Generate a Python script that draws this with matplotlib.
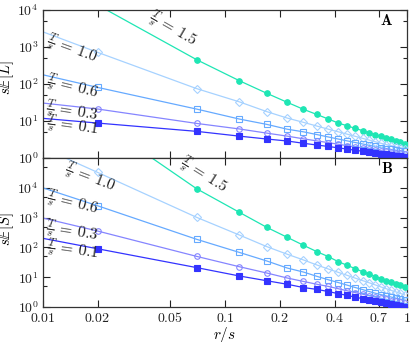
import numpy as np
import matplotlib
matplotlib.use("Agg")
import matplotlib.pyplot as plt
from matplotlib.ticker import FixedLocator, NullLocator

plt.rcParams['mathtext.fontset'] = 'cm'
plt.rcParams['font.family'] = ['DejaVu Serif']

# ---------------- data ----------------
x_marks = [0.02, 0.07, 0.12, 0.17, 0.22, 0.27, 0.32, 0.37, 0.42, 0.47,
           0.52, 0.57, 0.62, 0.67, 0.72, 0.77, 0.82, 0.87, 0.92, 0.97]
x_left = 0.01
T_levels = ["1.5", "1.0", "0.6", "0.3", "0.1"]

# panel A: s E[L]  (value at x=0.01 first, then markers)
L_15 = [1.1e5, 13700, 454, 123, 56, 32, 20.7, 15.0, 11.3, 8.8, 7.4, 6.3, 5.5, 4.8, 4.27, 3.85, 3.5, 3.2, 2.95, 2.7, 2.45]
L_10 = [2580, 719, 75, 33, 17.9, 12.0, 9.2, 7.3, 6.0, 5.1, 4.4, 3.85, 3.4, 3.05, 2.75, 2.5, 2.3, 2.15, 2.0, 1.9, 1.8]
L_06 = [178, 81, 21, 11.3, 8.1, 6.0, 5.1, 4.3, 3.7, 3.25, 2.9, 2.62, 2.4, 2.2, 2.05, 1.92, 1.8, 1.7, 1.62, 1.55, 1.5]
L_03 = [30.6, 21.1, 8.6, 6.1, 4.7, 3.9, 3.3, 2.9, 2.6, 2.35, 2.15, 2.0, 1.87, 1.76, 1.66, 1.58, 1.51, 1.45, 1.4, 1.35, 1.31]
L_01 = [11.8, 8.8, 5.25, 3.9, 3.26, 2.88, 2.5, 2.24, 2.05, 1.88, 1.74, 1.62, 1.52, 1.44, 1.37, 1.3, 1.25, 1.2, 1.16, 1.12, 1.09]

# panel B: s E[S]
S_15 = [2.0e7, 1.8e6, 9300, 1510, 470, 218, 118, 72, 49, 33, 25, 19.3, 15.3, 12.5, 10.5, 8.9, 7.6, 6.7, 6.0, 5.3, 4.7]
S_10 = [2.2e5, 33000, 1020, 261, 106, 59, 38, 25.7, 18.8, 14.5, 11.5, 9.3, 7.7, 6.5, 5.5, 4.7, 4.1, 3.6, 3.2, 2.85, 2.55]
S_06 = [10000, 2500, 187, 68, 35, 20.3, 14.9, 10.7, 8.2, 6.6, 5.4, 4.5, 3.85, 3.3, 2.9, 2.6, 2.35, 2.15, 1.98, 1.84, 1.72]
S_03 = [970, 355, 50, 22.5, 13.8, 9.4, 7.2, 5.8, 4.9, 4.1, 3.5, 3.05, 2.7, 2.4, 2.15, 1.95, 1.8, 1.65, 1.53, 1.43, 1.34]
S_01 = [202, 90, 21, 11, 7.6, 5.8, 4.5, 3.9, 3.3, 2.8, 2.45, 2.15, 1.9, 1.72, 1.57, 1.44, 1.33, 1.24, 1.16, 1.09, 1.03]

x_ticks = [0.01, 0.02, 0.05, 0.1, 0.2, 0.4, 0.7, 1]
x_ticklabels = ["0.01", "0.02", "0.05", "0.1", "0.2", "0.4", "0.7", "1"]

colors = ['#1ee6b4', '#a6d2ff', '#66aaff', '#8585ff', '#3333ff']
markers = ['o', 'D', 's', 'o', 's']
filled = [True, False, False, False, True]
msizes = [4.0, 3.6, 4.2, 4.0, 4.2]

# ---------------- figure ----------------
W, H = 415, 342
fig = plt.figure(figsize=(W / 100, H / 100), dpi=100)
L, R = 42.7 / W, 407 / W
axA = fig.add_axes([L, 1 - 158 / H, R - L, 148 / H])
axB = fig.add_axes([L, 1 - 307 / H, R - L, 149 / H])

ax_bottom_px = {'A': 158, 'B': 307}
ax_height_px = {'A': 148, 'B': 149}


def draw(ax, series, ylim, ylab, panel, labels, labelled_decades, ylab_y):
    xl = [x_left] + x_marks
    for vals, c, m, f, ms in zip(series, colors, markers, filled, msizes):
        ax.plot(xl, vals, '-', color=c, lw=0.9, zorder=2)
        ax.plot(x_marks, vals[1:], ls='none', marker=m, ms=ms,
                mfc=c if f else 'none', mec=c, mew=0.8, zorder=3)
    ax.set_xscale('log')
    ax.set_yscale('log')
    ax.set_xlim(0.01, 1)
    ax.set_ylim(*ylim)
    ax.xaxis.set_major_locator(FixedLocator(x_ticks))
    ax.xaxis.set_minor_locator(NullLocator())
    dec = list(range(int(np.log10(ylim[0])), int(np.log10(ylim[1])) + 1))
    ax.yaxis.set_major_locator(FixedLocator([10.0 ** k for k in dec]))
    ax.yaxis.set_minor_locator(FixedLocator([5 * 10.0 ** k for k in dec]))
    ax.set_yticklabels([r'$10^{%d}$' % k if k in labelled_decades else ''
                        for k in dec])
    ax.tick_params(which='both', direction='in', top=True, right=True,
                   labelsize=10, colors='#222222', width=0.8, pad=3)
    ax.tick_params(which='major', length=5)
    ax.tick_params(which='minor', length=3)
    for s in ax.spines.values():
        s.set_linewidth(0.9)
        s.set_color('#333333')
    ax.set_ylabel(ylab, fontsize=10.5)
    ax.yaxis.set_label_coords(-0.074, ylab_y)
    ax.text(0.944, 0.93, r'$\mathbf{%s}$' % panel, transform=ax.transAxes,
            ha='center', va='center', fontsize=11)
    for (px, py, rot), t in zip(labels, T_levels):
        fx = (px - 42.7) / (407 - 42.7)
        fy = (ax_bottom_px[panel] - py) / ax_height_px[panel]
        ax.text(fx, fy, r'$\frac{T}{s}\,=\,%s$' % t, transform=ax.transAxes,
                ha='center', va='center', rotation=rot, fontsize=11.5,
                color='#222222', rotation_mode='anchor')


labA = [(172, 30, -30), (72, 50, -20), (72, 88, -14), (72, 112, -9), (72, 127, -8)]
labB = [(203, 176, -32), (90, 178, -21), (72, 204, -14), (72, 232, -9), (72, 251, -8)]

draw(axA, [L_15, L_10, L_06, L_03, L_01], (1, 1e4), r'$s\mathbb{E}[L]$', 'A',
     labA, [0, 1, 2, 3, 4], 0.54)
draw(axB, [S_15, S_10, S_06, S_03, S_01], (1, 1e5), r'$s\mathbb{E}[S]$', 'B',
     labB, [0, 1, 2, 3, 4], 0.52)

axA.set_xticklabels([])
axB.set_xticklabels([r'$\mathrm{%s}$' % t for t in x_ticklabels])
axB.set_xlabel(r'$r/s$', fontsize=11)
axB.xaxis.set_label_coords(0.5, -0.118)

fig.savefig('out.png', dpi=100)
